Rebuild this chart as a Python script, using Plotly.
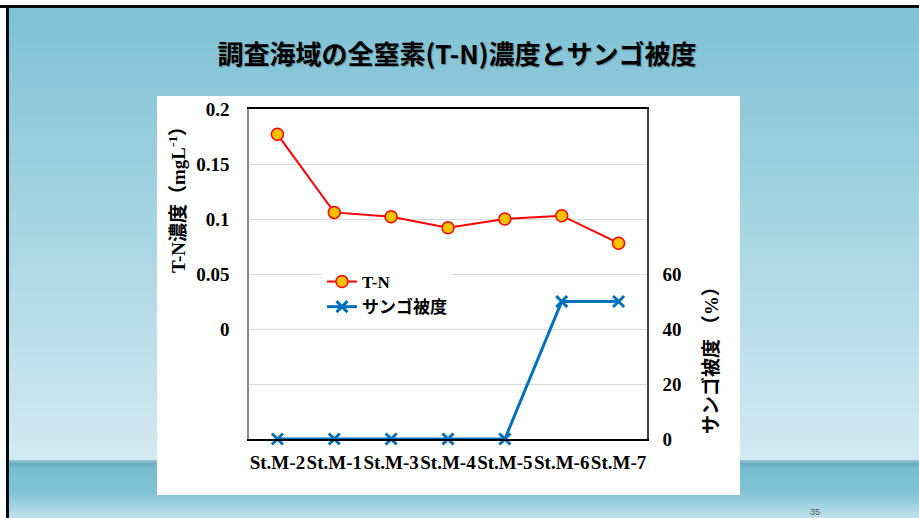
import plotly.graph_objects as go

# ---- data ----
stations = ["St.M-2", "St.M-1", "St.M-3", "St.M-4", "St.M-5", "St.M-6", "St.M-7"]
tn_values = [0.177, 0.106, 0.102, 0.092, 0.100, 0.103, 0.078]
coral_cover = [0, 0, 0, 0, 0, 50, 50]
left_tickvals = [0, 0.05, 0.1, 0.15, 0.2]
left_ticktext = ["0", "0.05", "0.1", "0.15", "0.2"]
right_tickvals = [0, 20, 40, 60]
right_ticktext = ["0", "20", "40", "60"]

W, H = 919, 518
SERIF = "Liberation Serif, Noto Sans CJK JP"
CJK = "Noto Sans CJK JP"

def px(x):
    return x / W

def py(y):
    return 1 - y / H

fig = go.Figure()
fig.add_trace(go.Scatter(
    x=stations, y=tn_values, name="T-N", mode="lines+markers",
    line=dict(color="#FF0000", width=2),
    marker=dict(symbol="circle", size=12, color="#FFC000",
                line=dict(color="#FF0000", width=1.5)),
    cliponaxis=False, yaxis="y"))
fig.add_trace(go.Scatter(
    x=stations, y=coral_cover, name="サンゴ被度", mode="lines+markers",
    line=dict(color="#0070C0", width=3),
    marker=dict(symbol="x-thin", size=11, color="#0070C0",
                line=dict(color="#0070C0", width=3)),
    cliponaxis=False, yaxis="y2"))

# ---- slide background (styling only) ----
shapes = []
def lerp(c1, c2, t):
    return tuple(round(a + (b - a) * t) for a, b in zip(c1, c2))

def band(y0, y1, c0, c1, step=4):
    y = y0
    while y < y1:
        ye = min(y + step, y1)
        t = (y - y0) / max(1, (y1 - y0))
        c = lerp(c0, c1, t)
        shapes.append(dict(type="rect", xref="paper", yref="paper",
                           x0=px(9), x1=1, y0=py(ye + 0.5), y1=py(y),
                           fillcolor="rgb(%d,%d,%d)" % c, line=dict(width=0),
                           layer="below"))
        y = ye

band(8, 460, (127, 193, 213), (211, 234, 241))
band(460, 463, (150, 195, 210), (110, 174, 195), step=1)
band(463, 468, (106, 172, 193), (118, 186, 206), step=1)
band(468, 492, (120, 189, 209), (130, 195, 214))
band(492, 518, (130, 195, 214), (195, 226, 236), step=2)

# black slide borders
shapes.append(dict(type="rect", xref="paper", yref="paper", x0=0, x1=1,
                   y0=py(8), y1=py(5), fillcolor="#0a0a0a", line=dict(width=0), layer="below"))
shapes.append(dict(type="rect", xref="paper", yref="paper", x0=px(6), x1=px(9),
                   y0=0, y1=py(5), fillcolor="#0a0a0a", line=dict(width=0), layer="below"))
# white chart box
shapes.append(dict(type="rect", xref="paper", yref="paper", x0=px(157), x1=px(740),
                   y0=py(495), y1=py(96), fillcolor="white", line=dict(width=0), layer="below"))

annotations = [
    dict(text="T-N濃度（mgL<sup>-1</sup>）", x=px(177), y=py(195), xref="paper", yref="paper",
         textangle=-90, showarrow=False, xanchor="center", yanchor="middle",
         font=dict(family=SERIF, size=19, color="black", weight="bold")),
    dict(text="サンゴ被度 （%）", x=px(711), y=py(356), xref="paper", yref="paper",
         textangle=-90, showarrow=False, xanchor="center", yanchor="middle",
         font=dict(family=SERIF, size=19, color="black", weight="bold")),
    dict(text="35", x=px(815), y=py(512), xref="paper", yref="paper",
         showarrow=False, xanchor="center", yanchor="middle",
         font=dict(family="Liberation Sans", size=9, color="#595959")),
]

fig.update_layout(
    width=W, height=H,
    margin=dict(l=0, r=0, t=0, b=0, pad=0),
    paper_bgcolor="white", plot_bgcolor="rgba(0,0,0,0)",
    showlegend=True,
    title=dict(text="調査海域の全窒素(T-N)濃度とサンゴ被度", x=px(457), y=py(55),
               xanchor="center", yanchor="middle", xref="paper", yref="container",
               automargin=False,
               font=dict(family=CJK, size=26, color="black", weight="bold",
                         shadow="1px 1px 1px #5a8a99")),
    xaxis=dict(domain=[px(249), px(647)], type="category", range=[-0.5, 6.5],
               automargin=False, tickangle=0,
               showline=True, linecolor="black", linewidth=1.5, mirror=True,
               showgrid=False, ticks="", ticklabelstandoff=5,
               tickfont=dict(family=SERIF, size=19, color="black", weight="bold")),
    yaxis=dict(domain=[py(439), py(109)], range=[-0.1, 0.2], automargin=False,
               tickvals=left_tickvals, ticktext=left_ticktext,
               showline=True, linecolor="#8c8c8c", linewidth=1.5,
               showgrid=True, gridcolor="#d9d9d9", gridwidth=1,
               zeroline=False, ticks="", ticklabelstandoff=14,
               tickfont=dict(family=SERIF, size=19, color="black", weight="bold")),
    yaxis2=dict(overlaying="y", side="right", anchor="x", range=[0, 120], automargin=False,
                tickvals=right_tickvals, ticktext=right_ticktext,
                showline=True, linecolor="#404040", linewidth=1.5,
                showgrid=True, gridcolor="#d9d9d9", gridwidth=1,
                zeroline=False, ticks="", ticklabelstandoff=10,
                tickfont=dict(family=SERIF, size=19, color="black", weight="bold")),
    legend=dict(x=px(322), y=py(264), xanchor="left", yanchor="top",
                bgcolor="white", borderwidth=0, tracegroupgap=0,
                font=dict(family=SERIF, size=17, color="black", weight="bold")),
    shapes=shapes,
    annotations=annotations,
)

fig.write_html("out.html", config={"displayModeBar": False},
               post_script="document.body.style.margin='0';document.body.style.padding='0';")
